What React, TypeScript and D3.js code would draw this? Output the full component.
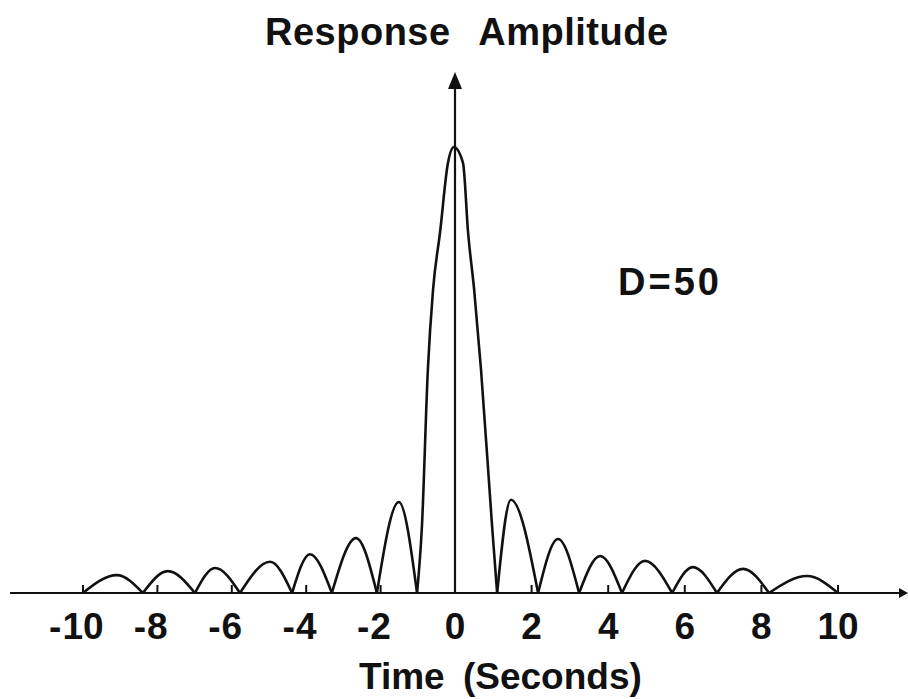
import React, { useRef, useEffect } from 'react';
import * as d3 from 'd3';

// curve: time (s) and relative amplitude (peak = 1)
const times = [
  -10, -9.09, -8.39, -7.72, -6.99, -6.45, -5.78, -4.97, -4.38, -3.9, -3.31, -2.66, -2.1, -1.51, -1.02,
  -0.89, -0.73, -0.59, -0.4, -0.19, -0.03, 0.21, 0.34, 0.5, 0.68, 0.97,
  1.1, 1.46, 2.17, 2.69, 3.24, 3.79, 4.36, 4.96, 5.67, 6.21, 6.84, 7.52, 8.2, 9.19, 10,
];
const amps = [
  0, 0.04, 0, 0.049, 0, 0.056, 0, 0.07, 0, 0.087, 0, 0.123, 0, 0.204, 0,
  0.148, 0.5, 0.68, 0.81, 0.964, 1.0, 0.964, 0.81, 0.68, 0.5, 0.148,
  0, 0.209, 0, 0.121, 0, 0.083, 0, 0.072, 0, 0.058, 0, 0.054, 0, 0.038, 0,
];
const tickValues = [-10, -8, -6, -4, -2, 0, 2, 4, 6, 8, 10];
const yTitle = 'Response Amplitude';
const xTitle = 'Time (Seconds)';
const note = 'D=50';

const FONT = '"Liberation Sans", Arial, Helvetica, sans-serif';

const App = () => {
  const ref = useRef<SVGSVGElement>(null);

  useEffect(() => {
    const svg = d3.select(ref.current);
    svg.selectAll('*').remove();

    // hand drawn axis: zero sits a bit left of the middle of -10..10
    const x = d3.scaleLinear().domain([-10, 0, 10]).range([83, 455, 838]);
    const y = d3.scaleLinear().domain([0, 1]).range([593, 147]);
    const base = y(0);

    svg.append('rect').attr('width', 908).attr('height', 699).attr('fill', '#fff');

    // horizontal axis with arrow on the right
    svg
      .append('line')
      .attr('x1', 10)
      .attr('x2', 904)
      .attr('y1', base)
      .attr('y2', base)
      .attr('stroke', '#111')
      .attr('stroke-width', 2.2);
    svg
      .append('path')
      .attr('d', `M908,${base} L899,${base - 5} L899,${base + 5} Z`)
      .attr('fill', '#111');

    // vertical axis with arrow on top
    const x0 = x(0);
    svg
      .append('line')
      .attr('x1', x0)
      .attr('x2', x0)
      .attr('y1', base)
      .attr('y2', 86)
      .attr('stroke', '#111')
      .attr('stroke-width', 2.2);
    svg
      .append('path')
      .attr('d', `M${x0},72 L${x0 - 7},89 L${x0 + 7},89 Z`)
      .attr('fill', '#111');

    // small upward ticks
    svg
      .selectAll('.tick')
      .data(tickValues.filter((d) => d !== 0))
      .enter()
      .append('line')
      .attr('class', 'tick')
      .attr('x1', (d) => x(d))
      .attr('x2', (d) => x(d))
      .attr('y1', base)
      .attr('y2', base - 8)
      .attr('stroke', '#111')
      .attr('stroke-width', 2);

    // tick labels: digits centred on the tick, minus sign in front
    const labels = svg
      .selectAll('.lbl')
      .data(tickValues)
      .enter()
      .append('g')
      .attr('class', 'lbl')
      .attr('transform', (d) => `translate(${x(d)},639)`)
      .attr('font-family', FONT)
      .attr('font-weight', 'bold')
      .attr('font-size', 37)
      .attr('fill', '#111');
    labels.each(function (d) {
      const g = d3.select(this);
      const t = g.append('text').attr('text-anchor', 'middle').text(String(Math.abs(d)));
      if (d < 0) {
        const w = (t.node() as SVGTextElement).getComputedTextLength();
        g.append('text')
          .attr('text-anchor', 'end')
          .attr('x', -w / 2 - 1)
          .text('-');
      }
    });

    // response curve, one path per lobe so the zeros stay sharp
    const pts = times.map((t, i) => ({ t, a: amps[i] }));
    const lobes: { t: number; a: number }[][] = [];
    let cur: { t: number; a: number }[] = [];
    pts.forEach((p) => {
      cur.push(p);
      if (p.a === 0 && cur.length > 1) {
        lobes.push(cur);
        cur = [p];
      }
    });

    const line = d3
      .line<{ t: number; a: number }>()
      .curve(d3.curveMonotoneX)
      .x((d) => x(d.t))
      .y((d) => y(d.a));

    svg
      .selectAll('.lobe')
      .data(lobes)
      .enter()
      .append('path')
      .attr('class', 'lobe')
      .attr('d', line)
      .attr('fill', 'none')
      .attr('stroke', '#111')
      .attr('stroke-width', 2.6)
      .attr('stroke-linejoin', 'round');

    // titles
    svg
      .append('text')
      .attr('x', 265)
      .attr('y', 45)
      .attr('font-family', FONT)
      .attr('font-weight', 'bold')
      .attr('font-size', 38)
      .attr('word-spacing', 18)
      .attr('letter-spacing', 0.5)
      .attr('fill', '#111')
      .text(yTitle);

    svg
      .append('text')
      .attr('x', 359)
      .attr('y', 689)
      .attr('font-family', FONT)
      .attr('font-weight', 'bold')
      .attr('font-size', 37)
      .attr('word-spacing', 8)
      .attr('fill', '#111')
      .text(xTitle);

    svg
      .append('text')
      .attr('x', 618)
      .attr('y', 295)
      .attr('font-family', FONT)
      .attr('font-weight', 'bold')
      .attr('font-size', 38)
      .attr('letter-spacing', 3)
      .attr('fill', '#111')
      .text(note);
  }, []);

  return (
    <svg
      ref={ref}
      width={908}
      height={699}
      style={{ position: 'absolute', left: 0, top: 0, display: 'block' }}
    />
  );
};

export default App;
